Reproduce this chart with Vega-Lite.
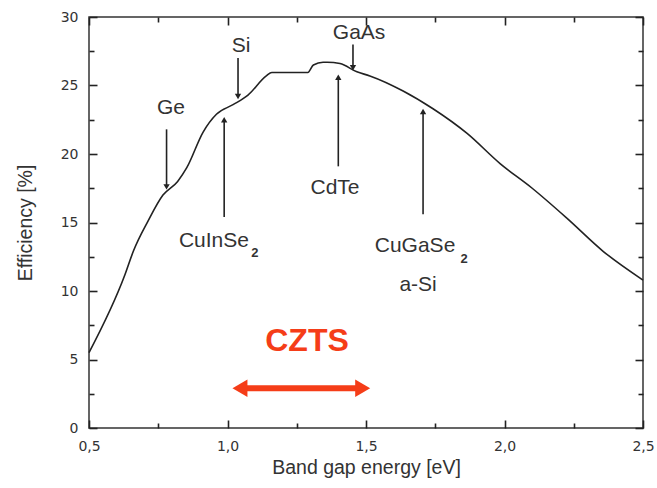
{
  "$schema": "https://vega.github.io/schema/vega-lite/v6.json",
  "width": 554,
  "height": 411,
  "autosize": {"type": "none"},
  "padding": {"left": 89, "top": 17, "right": 14, "bottom": 60},
  "config": {
    "view": {"stroke": "#333", "strokeWidth": 1.5},
    "font": "Liberation Sans",
    "axis": {"grid": false, "domain": false, "tickColor": "#222", "labelColor": "#333", "titleColor": "#333", "labelFont": "DejaVu Sans", "titleFont": "Liberation Sans", "titleFontWeight": "normal", "labelFlush": false, "labelOverlap": false, "tickWidth": 1.6}
  },
  "datasets": {
    "curve": [
      {"e": 0.5, "eff": 5.5}, {"e": 0.63, "eff": 11.2}, {"e": 0.66, "eff": 12.9}, {"e": 0.713, "eff": 15.1},
      {"e": 0.767, "eff": 17.0}, {"e": 0.82, "eff": 18.0}, {"e": 0.853, "eff": 19.0}, {"e": 0.912, "eff": 21.6},
      {"e": 0.96, "eff": 22.9}, {"e": 1.02, "eff": 23.6}, {"e": 1.074, "eff": 24.3}, {"e": 1.14, "eff": 25.7},
      {"e": 1.16, "eff": 25.95}, {"e": 1.29, "eff": 25.95}, {"e": 1.31, "eff": 26.5}, {"e": 1.345, "eff": 26.7},
      {"e": 1.36, "eff": 26.7}, {"e": 1.406, "eff": 26.6}, {"e": 1.467, "eff": 26.0}, {"e": 1.514, "eff": 25.7},
      {"e": 1.634, "eff": 24.6}, {"e": 1.742, "eff": 23.3}, {"e": 1.865, "eff": 21.5}, {"e": 1.984, "eff": 19.3},
      {"e": 2.1, "eff": 17.5}, {"e": 2.226, "eff": 15.3}, {"e": 2.356, "eff": 12.9}, {"e": 2.5, "eff": 10.8}
    ],
    "arrows": [
      {"name": "Ge", "e": 0.78, "from": 21.8, "to": 17.6, "dir": "down"},
      {"name": "Si", "e": 1.038, "from": 27.0, "to": 24.2, "dir": "down"},
      {"name": "GaAs", "e": 1.453, "from": 28.0, "to": 26.3, "dir": "down"},
      {"name": "CdTe", "e": 1.4, "from": 19.1, "to": 25.6, "dir": "up"},
      {"name": "CuInSe2", "e": 0.988, "from": 15.4, "to": 22.5, "dir": "up"},
      {"name": "CuGaSe2", "e": 1.706, "from": 15.6, "to": 23.1, "dir": "up"}
    ],
    "labels": [
      {"t": "Ge", "e": 0.796, "eff": 23.36},
      {"t": "Si", "e": 1.049, "eff": 27.9},
      {"t": "GaAs", "e": 1.475, "eff": 28.8},
      {"t": "CdTe", "e": 1.388, "eff": 17.5},
      {"t": "CuInSe", "e": 0.951, "eff": 13.65},
      {"t": "CuGaSe", "e": 1.677, "eff": 13.3},
      {"t": "a-Si", "e": 1.688, "eff": 10.44}
    ],
    "subs": [
      {"t": "2", "e": 1.099, "eff": 12.75},
      {"t": "2", "e": 1.854, "eff": 12.35}
    ],
    "czts": [{"e1": 1.045, "e2": 1.488, "eff": 2.9, "t": "CZTS", "mid": 1.287, "ty": 6.35}]
  },
  "resolve": {"axis": {"x": "independent", "y": "independent"}},
  "layer": [
    {
      "data": {"name": "curve"},
      "mark": {"type": "line", "color": "#222", "strokeWidth": 1.6, "interpolate": "monotone"},
      "encoding": {
        "x": {"field": "e", "type": "quantitative", "scale": {"domain": [0.5, 2.5], "nice": false},
          "axis": {"orient": "bottom", "values": [0.5, 1.0, 1.5, 2.0, 2.5], "ticks": false, "labelPadding": 11, "labelFontSize": 14,
            "labelExpr": "replace(format(datum.value, '.1f'), '.', ',')", "title": "Band gap energy [eV]", "titleFontSize": 19.5, "titlePadding": 5}},
        "y": {"field": "eff", "type": "quantitative", "scale": {"domain": [0, 30], "nice": false},
          "axis": {"orient": "left", "values": [0, 5, 10, 15, 20, 25, 30], "ticks": false, "labelPadding": 11, "labelFontSize": 14,
            "title": "Efficiency [%]", "titleFontSize": 19.5, "titlePadding": 25}}
      }
    },
    {
      "data": {"name": "arrows"},
      "mark": {"type": "rule", "color": "#222", "strokeWidth": 1.6},
      "encoding": {
        "x": {"field": "e", "type": "quantitative", "axis": {"orient": "bottom", "values": [0.5, 1.0, 1.5, 2.0, 2.5], "tickSize": -8, "labels": false, "title": null}},
        "y": {"field": "from", "type": "quantitative", "axis": {"orient": "left", "values": [0, 5, 10, 15, 20, 25, 30], "tickSize": -8, "labels": false, "title": null}},
        "y2": {"field": "to"}
      }
    },
    {
      "data": {"name": "arrows"},
      "mark": {"type": "point", "filled": true, "color": "#222", "size": 40, "opacity": 1},
      "encoding": {
        "x": {"field": "e", "type": "quantitative", "axis": {"orient": "bottom", "values": [0.75, 1.25, 1.75, 2.25], "tickSize": -5, "labels": false, "title": null}},
        "y": {"field": "to", "type": "quantitative", "axis": {"orient": "left", "values": [2.5, 7.5, 12.5, 17.5, 22.5, 27.5], "tickSize": -5, "labels": false, "title": null}},
        "shape": {"field": "dir", "type": "nominal", "scale": {"domain": ["down", "up"], "range": ["triangle-down", "triangle-up"]}, "legend": null}
      }
    },
    {
      "data": {"name": "labels"},
      "mark": {"type": "text", "fontSize": 21, "color": "#333", "font": "Liberation Sans"},
      "encoding": {
        "x": {"field": "e", "type": "quantitative", "axis": {"orient": "top", "values": [0.5, 1.0, 1.5, 2.0, 2.5], "tickSize": -8, "labels": false, "title": null}},
        "y": {"field": "eff", "type": "quantitative", "axis": {"orient": "right", "values": [0, 5, 10, 15, 20, 25, 30], "tickSize": -8, "labels": false, "title": null}},
        "text": {"field": "t"}
      }
    },
    {
      "data": {"name": "subs"},
      "mark": {"type": "text", "fontSize": 13, "fontWeight": "bold", "color": "#333", "font": "Liberation Sans"},
      "encoding": {
        "x": {"field": "e", "type": "quantitative", "axis": {"orient": "top", "values": [0.75, 1.25, 1.75, 2.25], "tickSize": -5, "labels": false, "title": null}},
        "y": {"field": "eff", "type": "quantitative", "axis": {"orient": "right", "values": [2.5, 7.5, 12.5, 17.5, 22.5, 27.5], "tickSize": -5, "labels": false, "title": null}},
        "text": {"field": "t"}
      }
    },
    {
      "data": {"name": "czts"},
      "mark": {"type": "rule", "color": "#f53d18", "strokeWidth": 6},
      "encoding": {
        "x": {"field": "e1", "type": "quantitative", "axis": null},
        "x2": {"field": "e2"},
        "y": {"field": "eff", "type": "quantitative", "axis": null}
      }
    },
    {
      "data": {"name": "czts"},
      "mark": {"type": "point", "shape": "triangle-left", "filled": true, "color": "#f53d18", "size": 300, "opacity": 1},
      "encoding": {
        "x": {"field": "e1", "type": "quantitative", "axis": null},
        "y": {"field": "eff", "type": "quantitative", "axis": null}
      }
    },
    {
      "data": {"name": "czts"},
      "mark": {"type": "point", "shape": "triangle-right", "filled": true, "color": "#f53d18", "size": 300, "opacity": 1},
      "encoding": {
        "x": {"field": "e2", "type": "quantitative", "axis": null},
        "y": {"field": "eff", "type": "quantitative", "axis": null}
      }
    },
    {
      "data": {"name": "czts"},
      "mark": {"type": "text", "fontSize": 32, "fontWeight": "bold", "color": "#f53d18", "font": "Liberation Sans"},
      "encoding": {
        "x": {"field": "mid", "type": "quantitative", "axis": null},
        "y": {"field": "ty", "type": "quantitative", "axis": null},
        "text": {"field": "t"}
      }
    }
  ]
}
